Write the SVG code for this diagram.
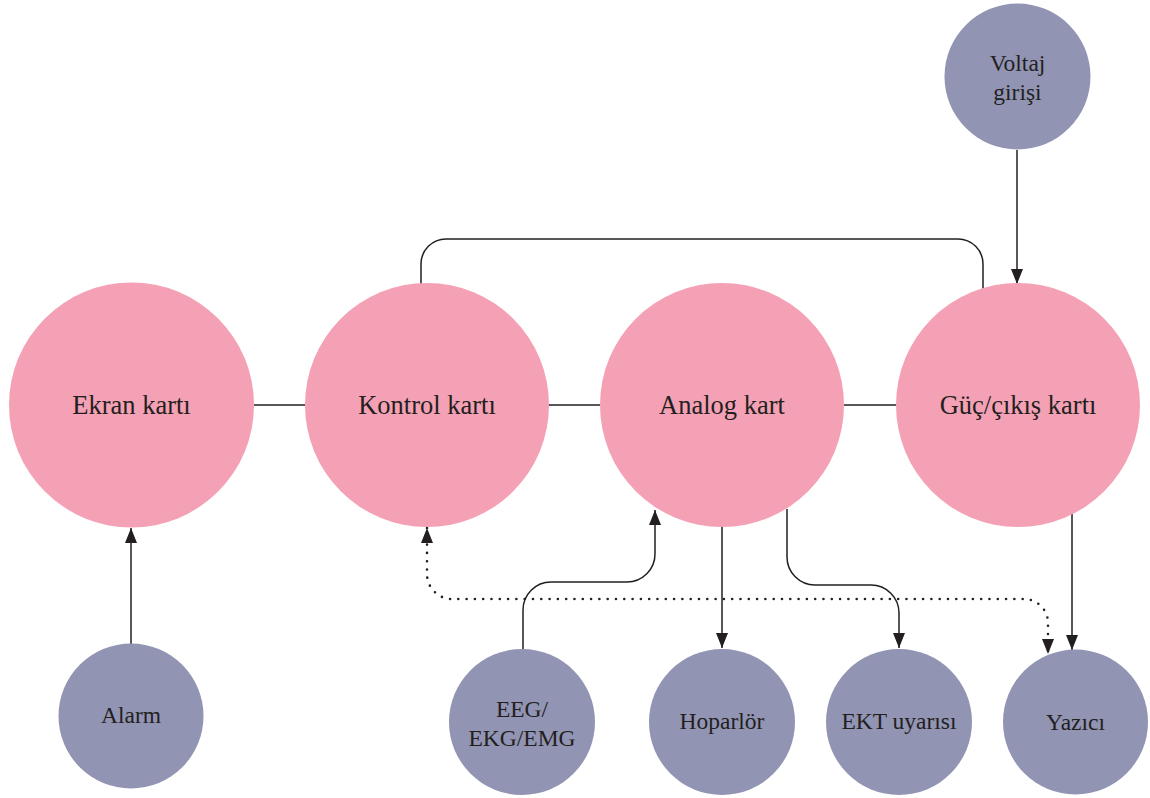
<svg xmlns="http://www.w3.org/2000/svg" width="1150" height="798" viewBox="0 0 1150 798">
<style>
.big{fill:#F5A1B5}
.small{fill:#9294B4}
text{fill:#231F20;text-anchor:middle}
.tb{font-size:26.5px}
.ts{font-size:23.5px}
.ln{fill:none;stroke:#231F20;stroke-width:1.5}
.dot{fill:none;stroke:#231F20;stroke-width:2.6;stroke-linecap:round;stroke-dasharray:0 8.3}
</style>
<defs>
<marker id="ah" markerUnits="userSpaceOnUse" markerWidth="15" markerHeight="12" refX="15" refY="6" orient="auto-start-reverse">
<path d="M0,0 L15,6 L0,12 z" fill="#231F20"/>
</marker>
</defs>
<g id="connectors">
<line class="ln" x1="254" y1="405" x2="305" y2="405"/>
<line class="ln" x1="549" y1="405" x2="600" y2="405"/>
<line class="ln" x1="844" y1="405" x2="896" y2="405"/>
<path class="ln" d="M421 285 L421 264 A25 25 0 0 1 446 239 L958 239 A25 25 0 0 1 983 264 L983 289"/>
<path class="ln" d="M1017 150 L1017 284" marker-end="url(#ah)"/>
<path class="ln" d="M131 644 L131 528" marker-end="url(#ah)"/>
<path class="ln" d="M523 649 L523 610 A28 28 0 0 1 551 582 L627 582 A28 28 0 0 0 655 554 L655 510" marker-end="url(#ah)"/>
<path class="ln" d="M722 527 L722 648" marker-end="url(#ah)"/>
<path class="ln" d="M787 509 L787 557 A28 28 0 0 0 815 585 L871 585 A28 28 0 0 1 899 613 L899 648" marker-end="url(#ah)"/>
<path class="ln" d="M1072 514 L1072 650" marker-end="url(#ah)"/>
<path class="dot" d="M427 528 L427 574 A25 25 0 0 0 452 599 L1024 599 A24 24 0 0 1 1048 623 L1048 654" marker-start="url(#ah)" marker-end="url(#ah)"/>
</g>
<g id="ekran"><circle class="big" cx="131.5" cy="405" r="122.5"/><text class="tb" font-family="Liberation Serif, serif" x="131.5" y="414">Ekran kartı</text></g>
<g id="kontrol"><circle class="big" cx="427" cy="405" r="122"/><text class="tb" font-family="Liberation Serif, serif" x="427" y="414">Kontrol kartı</text></g>
<g id="analog"><circle class="big" cx="722" cy="405" r="122"/><text class="tb" font-family="Liberation Serif, serif" x="722" y="414">Analog kart</text></g>
<g id="guc"><circle class="big" cx="1018" cy="405" r="122"/><text class="tb" font-family="Liberation Serif, serif" x="1018" y="414">Güç/çıkış kartı</text></g>
<g id="voltaj"><circle class="small" cx="1017.5" cy="76.5" r="73"/><text class="ts" font-family="Liberation Serif, serif" x="1017.5" y="71">Voltaj</text><text class="ts" font-family="Liberation Serif, serif" x="1017.5" y="100">girişi</text></g>
<g id="alarm"><circle class="small" cx="131" cy="716" r="72.5"/><text class="ts" font-family="Liberation Serif, serif" x="131" y="723">Alarm</text></g>
<g id="eeg"><circle class="small" cx="522" cy="722" r="73"/><text class="ts" font-family="Liberation Serif, serif" x="522" y="717">EEG/</text><text class="ts" font-family="Liberation Serif, serif" x="522" y="746">EKG/EMG</text></g>
<g id="hoparlor"><circle class="small" cx="722" cy="722" r="73"/><text class="ts" font-family="Liberation Serif, serif" x="722" y="729">Hoparlör</text></g>
<g id="ekt"><circle class="small" cx="899" cy="722" r="73"/><text class="ts" font-family="Liberation Serif, serif" x="899" y="729">EKT uyarısı</text></g>
<g id="yazici"><circle class="small" cx="1075.5" cy="722" r="72.5"/><text class="ts" font-family="Liberation Serif, serif" x="1075.5" y="730">Yazıcı</text></g>
</svg>
